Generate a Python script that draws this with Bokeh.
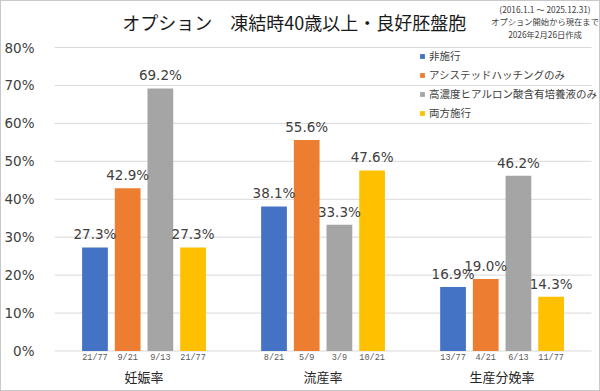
from bokeh.plotting import figure
from bokeh.models import (ColumnDataSource, Range1d, FixedTicker, NumeralTickFormatter,
                          LabelSet, Label, Legend, LegendItem)
from bokeh.core.properties import value
from bokeh.embed import file_html
from bokeh.resources import INLINE

# ---- data ----
categories = ["妊娠率", "流産率", "生産分娩率"]
series_names = ["非施行", "アシステッドハッチングのみ", "高濃度ヒアルロン酸含有培養液のみ", "両方施行"]
series_colors = ["#4472C4", "#ED7D31", "#A5A5A5", "#FFC000"]
val_none = [0.273, 0.381, 0.169]
val_ah = [0.429, 0.556, 0.190]
val_ha = [0.692, 0.333, 0.462]
val_both = [0.273, 0.476, 0.143]
frac_none = ["21/77", "8/21", "13/77"]
frac_ah = ["9/21", "5/9", "4/21"]
frac_ha = ["9/13", "3/9", "6/13"]
frac_both = ["21/77", "10/21", "11/77"]
y_ticks = [0, 0.1, 0.2, 0.3, 0.4, 0.5, 0.6, 0.7, 0.8]
title_text = "オプション　凍結時40歳以上・良好胚盤胞"
note_lines = ["(2016.1.1 ～ 2025.12.31)", "オプション開始から現在まで", "2026年2月26日作成"]

all_vals = [val_none, val_ah, val_ha, val_both]
all_fracs = [frac_none, frac_ah, frac_ha, frac_both]

# ---- layout constants (pixels) ----
W, H = 600, 391
LEFT = 48              # frame left (y-axis panel width)
PLOT_W = 542           # width of the 3 category bands
Y0_PX = 349.5          # pixel row of 0%
Y80_PX = 46.0          # pixel row of 80%
CAT = 1000             # data units per category
px_per_x = PLOT_W / (3 * CAT)
px_per_y = (Y0_PX - Y80_PX) / 0.8
x_end = (W - LEFT) / px_per_x
y_start = -(H - Y0_PX) / px_per_y
y_end = 0.8 + Y80_PX / px_per_y


def dx(px):  # figure pixel column -> data x
    return (px - LEFT) / px_per_x


def dy(py):  # figure pixel row -> data y
    return (Y0_PX - py) / px_per_y


p = figure(width=W, height=H, output_backend="svg", toolbar_location=None,
           x_range=Range1d(0, x_end), y_range=Range1d(y_start, y_end),
           min_border_left=LEFT, min_border_right=0, min_border_top=0, min_border_bottom=0)
p.styles = {"border": "1px solid #c8c8c8", "box-sizing": "border-box"}
p.outline_line_color = None
p.background_fill_color = "white"
p.border_fill_color = "white"

p.xaxis.visible = False
p.xgrid.grid_line_color = None
p.ygrid.grid_line_color = None

p.yaxis.ticker = FixedTicker(ticks=y_ticks)
p.yaxis.formatter = NumeralTickFormatter(format="0%")
p.yaxis.axis_line_color = None
p.yaxis.major_tick_line_color = None
p.yaxis.minor_tick_line_color = None
p.yaxis.major_label_standoff = 14
p.yaxis.major_label_text_font = "DejaVu Sans"
p.yaxis.major_label_text_font_size = "13.5px"
p.yaxis.major_label_text_color = "#404040"

# horizontal gridlines across the category bands
p.segment(x0=[0] * len(y_ticks), x1=[3 * CAT] * len(y_ticks), y0=y_ticks, y1=y_ticks,
          line_color="#d9d9d9", line_width=1)

step = 0.1826 * CAT
bw = 0.1438 * CAT
offsets = [-1.5, -0.5, 0.5, 1.5]
items = []
for k in range(4):
    xs = [i * CAT + CAT / 2 + offsets[k] * step for i in range(3)]
    src = ColumnDataSource(dict(x=xs, top=all_vals[k],
                                lab=[f"{v*100:.1f}%" for v in all_vals[k]],
                                frac=all_fracs[k], zero=[0, 0, 0]))
    r = p.vbar(x="x", top="top", width=bw, source=src, color=series_colors[k], line_color=None)
    items.append(LegendItem(label=series_names[k], renderers=[r]))
    p.add_layout(LabelSet(x="x", y="top", text="lab", source=src, text_align="center",
                          text_baseline="bottom", y_offset=5, text_font=value("DejaVu Sans"),
                          text_font_size="13.5px", text_color="#404040"))
    p.add_layout(LabelSet(x="x", y="zero", text="frac", source=src, text_align="center",
                          text_baseline="middle", y_offset=-7, text_font=value("Liberation Mono"),
                          text_font_size="8.5px", text_color="#595959"))

cat_src = ColumnDataSource(dict(x=[i * CAT + CAT / 2 for i in range(3)], y=[0, 0, 0], t=categories))
p.add_layout(LabelSet(x="x", y="y", text="t", source=cat_src, text_align="center",
                      text_baseline="middle", y_offset=-25, text_font=value("Noto Sans CJK JP"),
                      text_font_size="13px", text_color="#262626"))

legend = Legend(items=items, location=(365, 272), orientation="vertical",
                glyph_width=6, glyph_height=6, label_height=12, spacing=4, padding=0, margin=0,
                label_standoff=4, label_width=180, label_text_font="Noto Sans CJK JP",
                label_text_font_size="10.5px", label_text_color="#404040",
                background_fill_alpha=0, border_line_alpha=0)
p.add_layout(legend)

p.add_layout(Label(x=dx(290), y=dy(20), text=title_text,
                   text_align="center", text_baseline="middle", text_font="Noto Sans CJK JP",
                   text_font_size="18px", text_color="#1a1a1a"))
for j, t in enumerate(note_lines):
    p.add_layout(Label(x=dx(543), y=dy(7 + 12.6 * j), text=t,
                       text_align="center", text_baseline="middle", text_font="Noto Sans CJK JP",
                       text_font_size="8.3px", text_color="#404040"))

open("out.html", "w").write(file_html(p, INLINE))
